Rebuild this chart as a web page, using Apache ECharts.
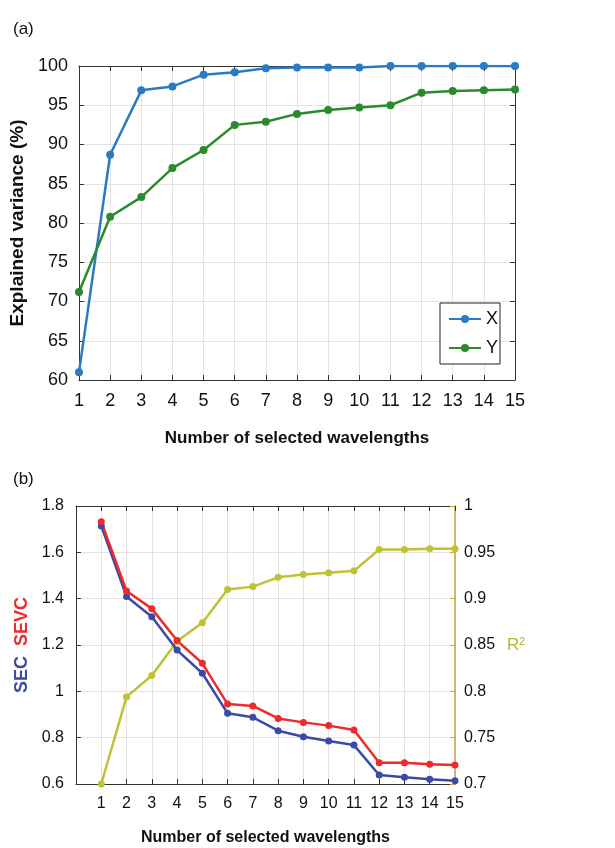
<!DOCTYPE html>
<html>
<head>
<meta charset="utf-8">
<script src="https://cdn.jsdelivr.net/npm/echarts@6/dist/echarts.min.js"></script>
<style>
  html, body { margin: 0; padding: 0; background: #fff; }
  #main { width: 615px; height: 848px; }
</style>
</head>
<body>
<div id="main"></div>
<script>
// number of selected wavelengths
var steps = [1, 2, 3, 4, 5, 6, 7, 8, 9, 10, 11, 12, 13, 14, 15];

// (a) explained variance (%)
var varX = [61.0, 88.7, 96.9, 97.4, 98.9, 99.2, 99.7, 99.8, 99.8, 99.8, 100, 100, 100, 100, 100];
var varY = [71.2, 80.8, 83.3, 87.0, 89.3, 92.5, 92.9, 93.9, 94.4, 94.7, 95.0, 96.6, 96.8, 96.9, 97.0];

// (b) SEC / SEVC (left axis), R2 (right axis)
var sec  = [1.714, 1.409, 1.322, 1.178, 1.078, 0.905, 0.888, 0.830, 0.804, 0.786, 0.768, 0.639, 0.629, 0.620, 0.614];
var sevc = [1.732, 1.433, 1.357, 1.219, 1.121, 0.945, 0.937, 0.883, 0.866, 0.852, 0.833, 0.692, 0.692, 0.685, 0.682];
var r2   = [0.700, 0.794, 0.817, 0.854, 0.874, 0.910, 0.913, 0.923, 0.926, 0.928, 0.930, 0.953, 0.953, 0.954, 0.954];

function pairs(vals) {
    return steps.map(function (s, i) { return [s, vals[i]]; });
}

var font = 'Liberation Sans, Arial, sans-serif';
var axisCol = '#333';
var gridCol = '#e3e3e3';

var chart = echarts.init(document.getElementById('main'));

// 坐标轴的公共部分
function baseAxis(extra) {
    var a = {
        axisLine: { show: true, onZero: false, lineStyle: { color: axisCol, width: 1 } },
        axisTick: { show: true, inside: true, length: 5, lineStyle: { color: axisCol } },
        axisLabel: { fontFamily: font, color: '#111' },
        splitLine: { show: false }
    };
    for (var k in extra) a[k] = extra[k];
    return a;
}

var option = {
    animation: false,
    title: [
        { text: '(a)', left: 8, top: 16, textStyle: { fontFamily: font, fontSize: 17, fontWeight: 'normal', color: '#111' } },
        { text: '(b)', left: 8, top: 466, textStyle: { fontFamily: font, fontSize: 17, fontWeight: 'normal', color: '#111' } }
    ],
    grid: [
        { left: 79, top: 66, width: 436, height: 314 },
        { left: 76, top: 506, width: 379, height: 278 }
    ],
    legend: {
        data: ['X', 'Y'],
        orient: 'vertical',
        left: 440,
        top: 303,
        itemWidth: 32,
        itemHeight: 10,
        itemGap: 11,
        padding: [7, 2, 7, 8],
        borderColor: '#222',
        borderWidth: 1,
        backgroundColor: '#fff',
        textStyle: { fontFamily: font, fontSize: 18, color: '#111' }
    },
    xAxis: [
        baseAxis({
            type: 'value', gridIndex: 0, min: 1, max: 15, interval: 1,
            axisLabel: { fontFamily: font, color: '#111', fontSize: 18, margin: 12 },
            splitLine: { show: true, lineStyle: { color: gridCol } },
            name: 'Number of selected wavelengths',
            nameLocation: 'middle', nameGap: 50,
            nameTextStyle: { fontFamily: font, fontSize: 17, fontWeight: 'bold', color: '#111' }
        }),
        baseAxis({
            type: 'value', gridIndex: 0, position: 'top', min: 1, max: 15, interval: 1,
            axisLabel: { show: false }
        }),
        baseAxis({
            type: 'value', gridIndex: 1, min: 0, max: 15, interval: 1,
            axisLabel: {
                fontFamily: font, color: '#111', fontSize: 16, margin: 12,
                formatter: function (v) { return v === 0 ? '' : v; }
            },
            splitLine: { show: true, lineStyle: { color: gridCol } },
            name: 'Number of selected wavelengths',
            nameLocation: 'middle', nameGap: 46,
            nameTextStyle: { fontFamily: font, fontSize: 16, fontWeight: 'bold', color: '#111' }
        }),
        baseAxis({
            type: 'value', gridIndex: 1, position: 'top', min: 0, max: 15, interval: 1,
            axisLabel: { show: false }
        })
    ],
    yAxis: [
        baseAxis({
            type: 'value', gridIndex: 0, min: 60, max: 100, interval: 5,
            axisLabel: { fontFamily: font, color: '#111', fontSize: 18, margin: 11 },
            splitLine: { show: true, lineStyle: { color: gridCol } },
            name: 'Explained variance (%)',
            nameLocation: 'middle', nameRotate: 90, nameGap: 48,
            nameTextStyle: { fontFamily: font, fontSize: 19, fontWeight: 'bold', color: '#111' }
        }),
        baseAxis({
            type: 'value', gridIndex: 0, position: 'right', min: 60, max: 100, interval: 5,
            axisLabel: { show: false }
        }),
        baseAxis({
            type: 'value', gridIndex: 1, position: 'left', min: 0.6, max: 1.8, interval: 0.2,
            axisLabel: { fontFamily: font, color: '#111', fontSize: 16, margin: 12 },
            splitLine: { show: true, lineStyle: { color: gridCol } },
            name: '{sec|SEC}  {sevc|SEVC}',
            nameLocation: 'middle', nameRotate: 90, nameGap: 44,
            nameTextStyle: {
                fontFamily: font, fontSize: 18, fontWeight: 'bold',
                rich: {
                    sec: { fontFamily: font, fontSize: 18, fontWeight: 'bold', color: '#3b4aa6' },
                    sevc: { fontFamily: font, fontSize: 18, fontWeight: 'bold', color: '#ee2a2a' }
                }
            }
        }),
        baseAxis({
            type: 'value', gridIndex: 1, position: 'right', min: 0.7, max: 1, interval: 0.05,
            axisLine: { show: true, onZero: false, lineStyle: { color: '#c9a24c', width: 1.5 } },
            axisTick: { show: true, inside: true, length: 5, lineStyle: { color: '#d4a52c' } },
            axisLabel: { fontFamily: font, color: '#111', fontSize: 16, margin: 9 },
            name: 'R²',
            nameLocation: 'middle', nameRotate: 0, nameGap: 52,
            nameTextStyle: { fontFamily: font, fontSize: 17, color: '#b8b830', align: 'left' }
        })
    ],
    series: [
        {
            name: 'X', type: 'line', xAxisIndex: 0, yAxisIndex: 0,
            data: pairs(varX), symbol: 'circle', symbolSize: 8,
            lineStyle: { width: 2.5, color: '#2a7bc4' }, itemStyle: { color: '#2a7bc4' }
        },
        {
            name: 'Y', type: 'line', xAxisIndex: 0, yAxisIndex: 0,
            data: pairs(varY), symbol: 'circle', symbolSize: 8,
            lineStyle: { width: 2.5, color: '#2b8a2e' }, itemStyle: { color: '#2b8a2e' }
        },
        {
            name: 'R2', type: 'line', xAxisIndex: 2, yAxisIndex: 3,
            data: pairs(r2), symbol: 'circle', symbolSize: 7,
            lineStyle: { width: 2.5, color: '#bfc233' }, itemStyle: { color: '#bfc233' }
        },
        {
            name: 'SEC', type: 'line', xAxisIndex: 2, yAxisIndex: 2,
            data: pairs(sec), symbol: 'circle', symbolSize: 7,
            lineStyle: { width: 2.5, color: '#3b4aa6' }, itemStyle: { color: '#3b4aa6' }
        },
        {
            name: 'SEVC', type: 'line', xAxisIndex: 2, yAxisIndex: 2,
            data: pairs(sevc), symbol: 'circle', symbolSize: 7,
            lineStyle: { width: 2.5, color: '#ee2a2a' }, itemStyle: { color: '#ee2a2a' }
        }
    ]
};

chart.setOption(option);
</script>
</body>
</html>
